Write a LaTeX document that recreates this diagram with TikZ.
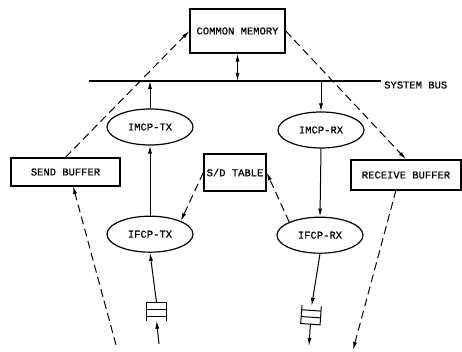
\documentclass[tikz,border=0pt]{standalone}
\usepackage{fontspec}
\setmonofont[RawFeature={embolden=0.5}]{Liberation Mono}
\usetikzlibrary{
  arrows.meta,
  positioning,
  shapes.geometric,
  calc
}

\begin{document}
\begin{tikzpicture}[
            x=1pt, y=1pt,
            box/.style={draw=black, line width=1.4pt, font=\ttfamily\fontsize{10.5}{12}\selectfont, inner sep=0pt},
            proc/.style={draw=black, line width=1.2pt, ellipse, minimum width=86pt, minimum height=36pt, inner sep=0pt, font=\ttfamily\fontsize{10.5}{12}\selectfont},
            queue/.style={minimum width=19pt, minimum height=18pt, inner sep=0pt},
            conn/.style={line width=1pt, -{Latex[length=8pt,width=4pt]}},
            ctrl/.style={conn, dash pattern=on 8pt off 4.5pt}
        ]
            \useasboundingbox (0,0) rectangle (462,352);
            \fill[white] (0,0) rectangle (462,352);
            % buffers and memory
            \node[box, minimum width=95pt, minimum height=44pt] (mem) at (237.5,321) {COMMON MEMORY};
            \node[box, minimum width=109pt, minimum height=28pt] (sendbuf) at (65.5,180) {SEND BUFFER};
            \node[box, minimum width=110pt, minimum height=30pt] (recvbuf) at (406,177) {RECEIVE BUFFER};
            \node[box, minimum width=62pt, minimum height=37pt] (sdtab) at (235,179.5) {S/D TABLE};
            % system bus
            \coordinate (busl) at (89,271);
            \coordinate (busr) at (381,271);
            \draw[line width=1.4pt] (busl) -- (busr);
            \node[font=\ttfamily\fontsize{10.5}{12}\selectfont, anchor=west, inner sep=0pt] (buslbl) at (384,267) {SYSTEM BUS};
            % protocol processes
            \node[proc] (imcptx) at (150,225) {IMCP-TX};
            \node[proc, below=70pt of imcptx] (ifcptx) {IFCP-TX};
            \node[proc] (imcprx) at (321,222) {IMCP-RX};
            \node[proc, below=68pt of imcprx, xshift=-1pt] (ifcprx) {IFCP-RX};
            % queues
            \node[queue] (qtx) at (156.5,40.5) {};
            \node[queue, rotate=-4] (qrx) at (311,37) {};
            \draw[line width=1pt] (qtx.south west) -- (qtx.north west) -- (qtx.north east) -- (qtx.south east);
            \draw[line width=1pt] ($(qtx.north west)!.4!(qtx.south west)$) -- ($(qtx.north east)!.4!(qtx.south east)$);
            \draw[line width=1pt] ($(qtx.north west)!.75!(qtx.south west)$) -- ($(qtx.north east)!.75!(qtx.south east)$);
            \draw[line width=1pt] (qrx.north west) -- (qrx.south west) -- (qrx.south east) -- (qrx.north east);
            \draw[line width=1pt] ($(qrx.north west)!.25!(qrx.south west)$) -- ($(qrx.north east)!.25!(qrx.south east)$);
            \draw[line width=1pt] ($(qrx.north west)!.62!(qrx.south west)$) -- ($(qrx.north east)!.62!(qrx.south east)$);
            % free ends at the bottom
            \coordinate (sendin) at (116,7);
            \coordinate (sendout) at (73,166);
            \coordinate (qtxin) at (159,8);
            \coordinate (qrxout) at (309,6);
            \coordinate (recvtap) at (396,162);
            \coordinate (recvout) at (353,2);
            % data path
            \draw[conn, {Latex[length=8pt,width=4pt]}-{Latex[length=8pt,width=4pt]}] (mem.south) -- (mem.south |- busl);
            \draw[conn] (imcptx.north) -- (imcptx.north |- busl);
            \draw[conn] (ifcptx.north) -- (imcptx.south);
            \draw[conn] (qtx.north) -- (ifcptx.south);
            \draw[conn] (qtxin) -- (qtx.south);
            \draw[conn] (imcprx.north |- busl) -- (imcprx.north);
            \draw[conn] (imcprx.south) -- (ifcprx.north);
            \draw[conn] (ifcprx.south) -- (qrx.north);
            \draw[conn] (qrx.south) -- (qrxout);
            % buffer and table control
            \draw[ctrl] (sendbuf.north) -- (mem.west);
            \draw[ctrl] (mem.east) -- (recvbuf.north);
            \draw[ctrl] (sendin) -- (sendout);
            \draw[ctrl] (recvtap) -- (recvout);
            \draw[ctrl] (sdtab.west) -- (ifcptx.north east);
            \draw[ctrl] (ifcprx.north west) -- (sdtab.east);
        \end{tikzpicture}
\end{document}
